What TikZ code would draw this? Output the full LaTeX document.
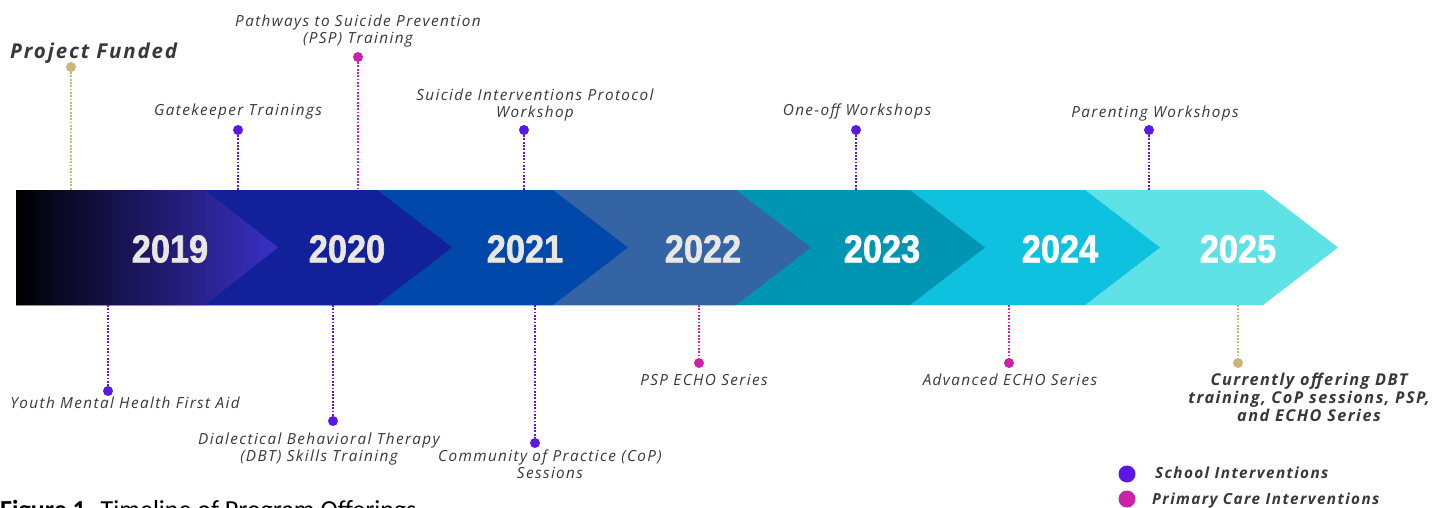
\documentclass[tikz,border=0pt]{standalone}
\usepackage{fontspec}
\setmainfont{Open Sans}
\newfontfamily\yearfont[FakeStretch=0.88, FakeBold=1.6]{Liberation Sans}
\newfontfamily\eventfont[LetterSpace=9]{Open Sans}
\newfontfamily\capfont{Carlito}

\definecolor{schoolblue}{HTML}{5A17E6}
\definecolor{careplum}{HTML}{CC22AA}
\definecolor{fundtan}{HTML}{CDB477}
\definecolor{labelgray}{HTML}{383838}
\definecolor{yearwhite}{HTML}{EAE6E2}
\definecolor{y19}{HTML}{3A30C6}
\definecolor{y19mid}{HTML}{16124F}
\definecolor{y20}{HTML}{12219A}
\definecolor{y21}{HTML}{0049AB}
\definecolor{y22}{HTML}{3464A3}
\definecolor{y23}{HTML}{0096B3}
\definecolor{y24}{HTML}{0EC1DF}
\definecolor{y25}{HTML}{5FE2E6}

\begin{document}
\begin{tikzpicture}
  [x=1pt, y=-1pt,
   event/.style={font=\eventfont\itshape\fontsize{15.3}{16.5}\selectfont, text=labelgray,
                 align=center, inner sep=0pt},
   bold event/.style={event, font=\eventfont\bfseries\itshape\fontsize{15.3}{18}\selectfont},
   year/.style={font=\yearfont\bfseries\fontsize{39}{39}\selectfont, inner sep=0pt},
   dot/.style={circle, inner sep=0pt, minimum size=10pt},
   stem/.style={line width=1.8pt, dash pattern=on 1.8pt off 1.5pt}]
  \path[use as bounding box] (0,0) rectangle (1445,508);
  \clip (0,0) rectangle (1445,508);

  \coordinate (top) at (0,190);
  \coordinate (bot) at (0,305);

  % chevrons, drawn back to front
  \foreach \tip/\col in {1338/y25, 1160/y24, 985/y23, 811/y22, 628/y21, 452/y20}
    \fill[\col] (16,190) -- (\tip-75,190) -- (\tip,247.5) -- (\tip-75,305) -- (16,305) -- cycle;
  \shade[left color=black, middle color=y19mid, right color=y19]
    (16,190) -- (205,190) -- (278,247.5) -- (205,305) -- (16,305) -- cycle;

  \node[year, text=yearwhite] (y2019) at (170,249) {2019};
  \node[year, text=yearwhite] (y2020) at (347,249) {2020};
  \node[year, text=yearwhite] (y2021) at (525,249) {2021};
  \node[year, text=yearwhite] (y2022) at (703,249) {2022};
  \node[year, text=white]     (y2023) at (882,249) {2023};
  \node[year, text=white]     (y2024) at (1060,249) {2024};
  \node[year, text=white]     (y2025) at (1238,249) {2025};

  % events above the bar
  \node[dot, fill=fundtan]    (fund)   at (71,67) {};
  \node[dot, fill=schoolblue] (gate)   at (238,130) {};
  \node[dot, fill=careplum]   (psp)    at (358,57) {};
  \node[dot, fill=schoolblue] (sip)    at (524,130) {};
  \node[dot, fill=schoolblue] (oneoff) at (856,130) {};
  \node[dot, fill=schoolblue] (parent) at (1149,130) {};

  \draw[stem, fundtan]    (fund)   -- (fund |- top);
  \draw[stem, schoolblue] (gate)   -- (gate |- top);
  \draw[stem, careplum]   (psp)    -- (psp |- top);
  \draw[stem, schoolblue] (sip)    -- (sip |- top);
  \draw[stem, schoolblue] (oneoff) -- (oneoff |- top);
  \draw[stem, schoolblue] (parent) -- (parent |- top);

  \node[event, anchor=base west, font=\eventfont\bfseries\itshape\fontsize{20.5}{22}\selectfont]
    (fundtxt) at (10,59) {Project Funded};
  \node[event, anchor=base] (gatetxt) at (238,116) {Gatekeeper Trainings};
  \node[event, anchor=north] (psptxt) at (358,15) {Pathways to Suicide Prevention\\(PSP) Training};
  \node[event, anchor=north] (siptxt) at (535,89) {Suicide Interventions Protocol\\Workshop};
  \node[event, anchor=base] (oneofftxt) at (857,116) {One-off Workshops};
  \node[event, anchor=base] (parenttxt) at (1155,118) {Parenting Workshops};

  % events below the bar
  \node[dot, fill=schoolblue] (ymhfa)   at (108,391) {};
  \node[dot, fill=schoolblue] (dbt)     at (333,421) {};
  \node[dot, fill=schoolblue] (cop)     at (535,443) {};
  \node[dot, fill=careplum]   (pspecho) at (699,363) {};
  \node[dot, fill=careplum]   (adv)     at (1009,363) {};
  \node[dot, fill=fundtan]    (now)     at (1238,363) {};

  \draw[stem, schoolblue] (ymhfa |- bot)   -- (ymhfa);
  \draw[stem, schoolblue] (dbt |- bot)     -- (dbt);
  \draw[stem, schoolblue] (cop |- bot)     -- (cop);
  \draw[stem, careplum]   (pspecho |- bot) -- (pspecho);
  \draw[stem, careplum]   (adv |- bot)     -- (adv);
  \draw[stem, fundtan]    (now |- bot)     -- (now);

  \node[event, anchor=base] (ymhfatxt) at (125,408) {Youth Mental Health First Aid};
  \node[event, anchor=north] (dbttxt) at (319,433) {Dialectical Behavioral Therapy\\(DBT) Skills Training};
  \node[event, anchor=north] (coptxt) at (550,450) {Community of Practice (CoP)\\Sessions};
  \node[event, anchor=base] (pspechotxt) at (704,385) {PSP ECHO Series};
  \node[event, anchor=base] (advtxt) at (1010,385) {Advanced ECHO Series};
  \node[bold event, anchor=north, font=\eventfont\bfseries\itshape\fontsize{16.3}{18}\selectfont]
    (nowtxt) at (1309,373) {Currently offering DBT\\training, CoP sessions, PSP,\\and ECHO Series};

  % legend
  \node[dot, fill=schoolblue, minimum size=17pt] (keyschool) at (1127,474) {};
  \node[dot, fill=careplum, minimum size=17pt]   (keycare)   at (1127,499) {};
  \node[bold event, anchor=base west] (keyschooltxt) at (1155,478) {School Interventions};
  \node[bold event, anchor=base west] (keycaretxt)   at (1152,504) {Primary Care Interventions};

  \node[anchor=base west, inner sep=0pt, font=\capfont\fontsize{26}{28}\selectfont] (caption)
    at (0,518) {\textbf{Figure 1.} Timeline of Program Offerings};
\end{tikzpicture}
\end{document}
